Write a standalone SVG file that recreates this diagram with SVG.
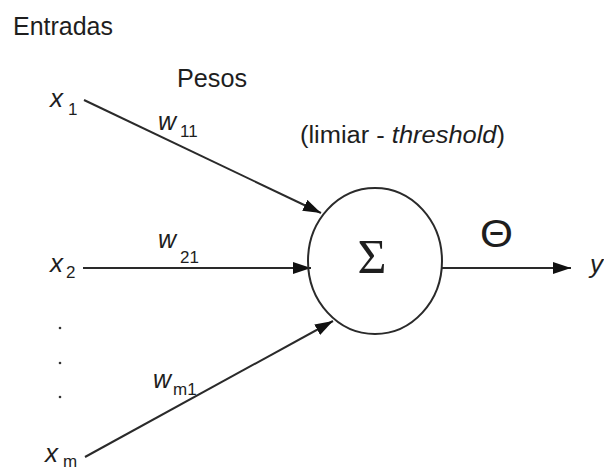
<svg xmlns="http://www.w3.org/2000/svg" width="604" height="470" viewBox="0 0 604 470">
<style>
text{font-family:"Liberation Sans",Arial,sans-serif;fill:#1e1e1e}
.it{font-style:italic}
.lbl{font-size:26px}
.var{font-size:26px;font-style:italic}
.sub{font-size:17px}
.wt{font-size:25px;font-style:italic}
.edge{stroke:#2a2a2a;stroke-width:2;fill:none}
</style>
<defs>
<marker id="ah" markerUnits="userSpaceOnUse" markerWidth="20" markerHeight="14" refX="18" refY="6" orient="auto">
<path d="M0,0 L18,6 L0,12 z" fill="#111"/>
</marker>
</defs>
<rect width="604" height="470" fill="#fff"/>
<g id="titles">
<text class="lbl" x="13" y="35" textLength="100" lengthAdjust="spacingAndGlyphs">Entradas</text>
<text class="lbl" x="177" y="87" textLength="70" lengthAdjust="spacingAndGlyphs">Pesos</text>
<text x="300" y="143" style="font-size:23px" textLength="205" lengthAdjust="spacingAndGlyphs">(limiar - <tspan class="it">threshold</tspan>)</text>
</g>
<g id="connectors">
<line class="edge" x1="84" y1="100" x2="321" y2="213" marker-end="url(#ah)"/>
<line class="edge" x1="83" y1="268" x2="311" y2="268" marker-end="url(#ah)"/>
<line class="edge" x1="85" y1="457" x2="333" y2="321" marker-end="url(#ah)"/>
<line class="edge" x1="442" y1="268" x2="571" y2="268" marker-end="url(#ah)"/>
</g>
<g id="neuron">
<ellipse cx="375" cy="261" rx="67" ry="73" fill="none" stroke="#2a2a2a" stroke-width="2"/>
<text x="372" y="273" text-anchor="middle" style="font-family:'Liberation Serif','Times New Roman',serif;font-size:48px" textLength="29" lengthAdjust="spacingAndGlyphs">Σ</text>
</g>
<g id="threshold">
<text x="480" y="247" style="font-size:39px" textLength="33" lengthAdjust="spacingAndGlyphs">Θ</text>
</g>
<g id="output">
<text class="var" x="590" y="273">y</text>
</g>
<g id="input-x1">
<text class="var" x="50" y="107">x</text><text class="sub" x="68" y="115">1</text>
</g>
<g id="input-x2">
<text class="var" x="50" y="272">x</text><text class="sub" x="66" y="278">2</text>
</g>
<g id="dots">
<circle cx="60" cy="328" r="1.3" fill="#333"/>
<circle cx="60" cy="363" r="1.3" fill="#333"/>
<circle cx="60" cy="397" r="1.3" fill="#333"/>
</g>
<g id="input-xm">
<text class="var" x="45" y="462">x</text><text class="sub" x="63" y="467">m</text>
</g>
<g id="weights">
<text class="wt" x="158" y="130">w</text><text class="sub" x="180" y="137">11</text>
<text class="wt" x="158" y="248">w</text><text class="sub" x="180" y="263">21</text>
<text class="wt" x="153" y="388">w</text><text class="sub" x="173" y="395">m1</text>
</g>
</svg>
